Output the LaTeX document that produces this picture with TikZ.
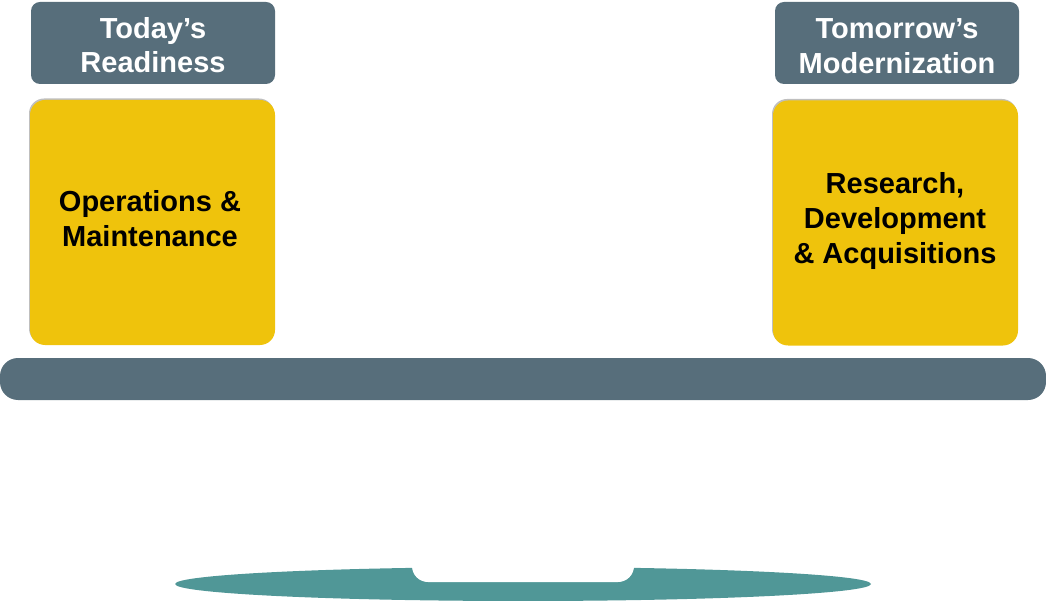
\documentclass[tikz,border=0pt]{standalone}
\usepackage{fontspec}
\setmainfont{Liberation Sans}
\usetikzlibrary{shadows}
\definecolor{hdr}{HTML}{576E7B}
\definecolor{gold}{HTML}{EFC30C}
\definecolor{teal}{HTML}{509797}
\tikzset{
  header/.style={fill=hdr, rounded corners=9pt, minimum width=244pt, minimum height=82pt, inner sep=0pt,
    text=white, align=center, font=\fontsize{29}{34.5}\selectfont\bfseries},
  goldbox/.style={fill=gold, rounded corners=15pt, minimum width=245pt, minimum height=245pt, inner sep=0pt,
    drop shadow={shadow xshift=-1pt, shadow yshift=1.5pt, fill=black, opacity=0.25}},
  goldtext/.style={align=center, text=black, font=\fontsize{29}{35}\selectfont\bfseries},
}
\begin{document}
\begin{tikzpicture}[x=1pt,y=-1pt]
\useasboundingbox (0,0) rectangle (1046,601);
% headers
\node[header] (h1) at (153,43) {};
\node[header, fill=none] (h1t) at (153,45) {Today’s\\Readiness};
\node[header] (h2) at (897,43) {};
\node[header, fill=none] (h2t) at (897,46) {Tomorrow’s\\Modernization};
% gold boxes
\node[goldbox] (b1) at (152.5,222.5) {};
\node[goldtext] (t1) at (150,219) {Operations \&\\Maintenance};
\node[goldbox] (b2) at (895.5,223) {};
\node[goldtext] (t2) at (895,221) {Research,\\Development\\\& Acquisitions};
% beam
\fill[hdr, rounded corners=18pt] (0,358) rectangle (1046,400);
% base
\fill[teal] (523,584) ellipse [x radius=348, y radius=17];
\fill[white, rounded corners=16pt] (412,540) -- (412,582) -- (634,582) -- (634,540) -- cycle;
\fill[white] (405,540) rectangle (641,563);
\end{tikzpicture}
\end{document}
